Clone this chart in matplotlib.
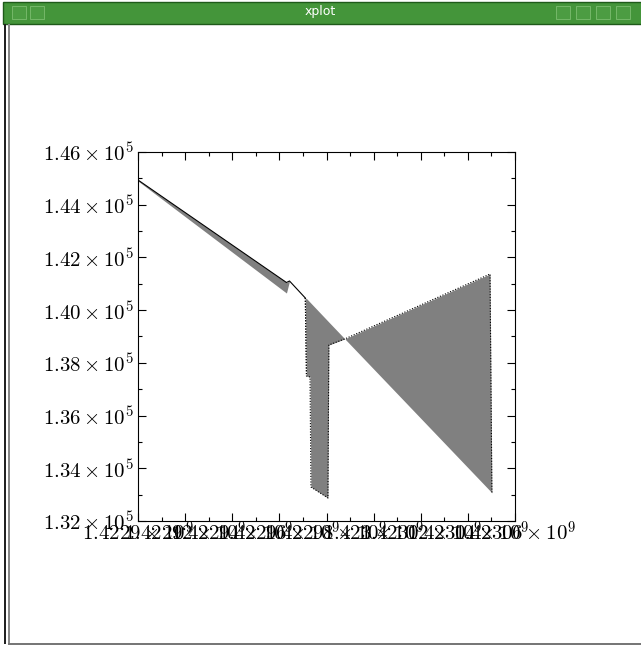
import matplotlib
matplotlib.use("Agg")
import matplotlib.pyplot as plt
from matplotlib.patches import Rectangle
from matplotlib.ticker import FixedLocator, MultipleLocator

plt.rcParams["mathtext.fontset"] = "cm"

# breakpoints (x in seconds, y in counts)
x_vals = [1.42290e9, 1.422963e9, 1.4229643e9, 1.422971e9, 1.4229715e9, 1.422973e9,
          1.4229734e9, 1.4229806e9, 1.422981e9, 1.4229878e9, 1.4230494e9, 1.4230502e9]
upper_y = [144938, 141049, 141106, 140461, 140442, 140301,
           140263, 139584, 139546, 138909, 133146, 133066]
lower_y = [144900, 140650, 141106, 140461, 137501, 137463,
           133290, 132873, 138678, 138909, 141371, 133066]

x_ticks = [1.42290e9, 1.42292e9, 1.42294e9, 1.42296e9, 1.42298e9,
           1.42300e9, 1.42302e9, 1.42304e9, 1.42306e9]
x_labels = ["1.4229", "1.42292", "1.42294", "1.42296", "1.42298",
            "1.423", "1.42302", "1.42304", "1.42306"]
y_ticks = [132000, 134000, 136000, 138000, 140000, 142000, 144000, 146000]
y_labels = ["1.32", "1.34", "1.36", "1.38", "1.40", "1.42", "1.44", "1.46"]

W, H = 641, 648
fig = plt.figure(figsize=(W / 100, H / 100), dpi=100)
fig.patch.set_facecolor("white")

# window chrome
fig.patches.append(Rectangle((3 / W, 1 - 24 / H), 1, 22 / H, transform=fig.transFigure,
                             facecolor="#44953a", edgecolor="#1f5a1a", lw=1))
# title bar buttons
for bx in [12, 30, 556, 576, 596, 616]:
    fig.patches.append(Rectangle((bx / W, 1 - 19 / H), 14 / W, 13 / H, transform=fig.transFigure,
                                 facecolor="#4c9c42", edgecolor="#7cbc70", lw=0.6))
fig.patches.append(Rectangle((4 / W, 4 / H), 2 / W, 1 - 28 / H, transform=fig.transFigure,
                             facecolor="#222222", edgecolor="none"))
fig.patches.append(Rectangle((8 / W, 4 / H), 2 / W, 1 - 28 / H, transform=fig.transFigure,
                             facecolor="#888888", edgecolor="none"))
fig.patches.append(Rectangle((8 / W, 3 / H), 1, 2 / H, transform=fig.transFigure,
                             facecolor="#777777", edgecolor="none"))
fig.text(320 / W, 1 - 12 / H, "xplot", color="white", fontsize=9,
         ha="center", va="center", family="DejaVu Sans")

ax = fig.add_axes([138 / W, (H - 521) / H, 377 / W, 369 / H])

ax.fill_between(x_vals, upper_y, lower_y, color="#808080", lw=0)
ax.plot(x_vals[:4], upper_y[:4], color="black", lw=0.8)
ax.plot(x_vals[3:], lower_y[3:], color="black", lw=0.8, linestyle=(0, (1, 1.5)))
ax.plot(x_vals[3:5], [upper_y[3], lower_y[4]], color="black", lw=0.8, linestyle=(0, (1, 1.5)))

ax.set_xlim(x_ticks[0], x_ticks[-1])
ax.set_ylim(y_ticks[0], y_ticks[-1])

ax.xaxis.set_major_locator(FixedLocator(x_ticks))
ax.xaxis.set_minor_locator(MultipleLocator(10000))
ax.yaxis.set_major_locator(FixedLocator(y_ticks))
ax.yaxis.set_minor_locator(MultipleLocator(1000))
ax.set_xticklabels([rf"${v}\times10^{{9}}$" for v in x_labels])
ax.set_yticklabels([rf"${v}\times10^{{5}}$" for v in y_labels])

ax.tick_params(which="both", direction="in", top=True, right=True, color="black", width=0.8)
ax.tick_params(which="major", length=6)
ax.tick_params(which="minor", length=3)
ax.tick_params(axis="x", labelsize=15, pad=0)
ax.tick_params(axis="y", labelsize=15, pad=3)
for s in ax.spines.values():
    s.set_linewidth(0.8)

fig.savefig("out.png", dpi=100)
